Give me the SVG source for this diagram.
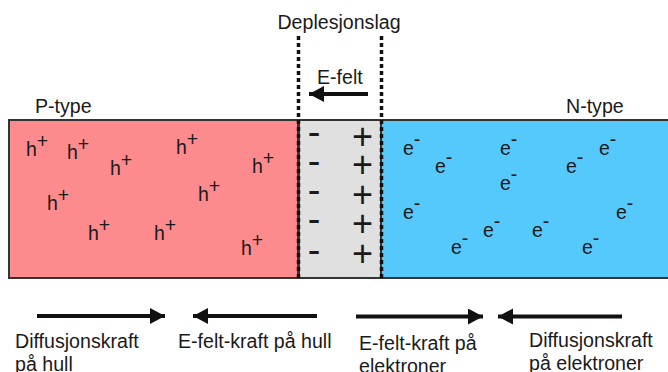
<svg xmlns="http://www.w3.org/2000/svg" width="668" height="372" viewBox="0 0 668 372">
<style>
  text { font-family: "Liberation Sans", Arial, sans-serif; fill: #1a1a1a; }
  .lbl { font-size: 19.6px; }
  .car { font-size: 19.5px; }
  .minus { font-size: 38px; text-anchor: middle; }
  .plus { font-size: 36px; text-anchor: middle; }
  .box { stroke: #333; stroke-width: 2; }
  .dash { stroke: #111; stroke-width: 3.5; stroke-dasharray: 4 3; fill: none; }
  .arr { stroke: #111; stroke-width: 3.8; fill: none; marker-end: url(#ah); }
</style>
<defs>
  <marker id="ah" markerUnits="userSpaceOnUse" markerWidth="16" markerHeight="18" refX="15" refY="8" orient="auto">
    <path d="M0,0 L15,8 L0,16 Z" fill="#111"/>
  </marker>
</defs>
<rect width="668" height="372" fill="#fff"/>

<g id="p-region">
  <rect class="box" x="9" y="120" width="289" height="158" fill="#fd8a8d"/>
  <text class="lbl" x="35" y="113">P-type</text>
  <g class="car">
    <text x="26" y="156">h<tspan dy="-8">+</tspan></text>
    <text x="67" y="159">h<tspan dy="-8">+</tspan></text>
    <text x="110" y="175">h<tspan dy="-8">+</tspan></text>
    <text x="176" y="154">h<tspan dy="-8">+</tspan></text>
    <text x="252" y="173">h<tspan dy="-8">+</tspan></text>
    <text x="47" y="210">h<tspan dy="-8">+</tspan></text>
    <text x="198" y="201">h<tspan dy="-8">+</tspan></text>
    <text x="88" y="240">h<tspan dy="-8">+</tspan></text>
    <text x="154" y="240">h<tspan dy="-8">+</tspan></text>
    <text x="241" y="255">h<tspan dy="-8">+</tspan></text>
  </g>
</g>

<g id="depletion-region">
  <rect class="box" x="299" y="120" width="82" height="158" fill="#e0e0e0"/>
  <text class="lbl" x="339" y="29" text-anchor="middle">Deplesjonslag</text>
  <text class="minus" x="314" y="145">-</text>
  <text class="minus" x="314" y="174">-</text>
  <text class="minus" x="314" y="203">-</text>
  <text class="minus" x="314" y="232">-</text>
  <text class="minus" x="314" y="263">-</text>
  <text class="plus" x="362.5" y="149">+</text>
  <text class="plus" x="362.5" y="177">+</text>
  <text class="plus" x="362.5" y="207">+</text>
  <text class="plus" x="362.5" y="236">+</text>
  <text class="plus" x="362.5" y="266">+</text>
</g>

<g id="n-region">
  <rect class="box" x="381" y="120" width="300" height="158" fill="#55c8fc"/>
  <text class="lbl" x="566" y="113">N-type</text>
  <g class="car">
    <text x="403" y="155">e<tspan dy="-9">-</tspan></text>
    <text x="435" y="173">e<tspan dy="-9">-</tspan></text>
    <text x="500" y="155">e<tspan dy="-9">-</tspan></text>
    <text x="500" y="190">e<tspan dy="-9">-</tspan></text>
    <text x="566" y="173">e<tspan dy="-9">-</tspan></text>
    <text x="599" y="155">e<tspan dy="-9">-</tspan></text>
    <text x="403" y="219">e<tspan dy="-9">-</tspan></text>
    <text x="483" y="237">e<tspan dy="-9">-</tspan></text>
    <text x="532" y="237">e<tspan dy="-9">-</tspan></text>
    <text x="451" y="254">e<tspan dy="-9">-</tspan></text>
    <text x="582" y="254">e<tspan dy="-9">-</tspan></text>
    <text x="616" y="219">e<tspan dy="-9">-</tspan></text>
  </g>
</g>

<g id="e-field">
  <text class="lbl" x="317" y="84">E-felt</text>
</g>

<g id="labels">
  <text class="lbl" x="15" y="348">Diffusjonskraft</text>
  <text class="lbl" x="15" y="371">på hull</text>
  <text class="lbl" x="178" y="348">E-felt-kraft på hull</text>
  <text class="lbl" x="359" y="350">E-felt-kraft på</text>
  <text class="lbl" x="359" y="373">elektroner</text>
  <text class="lbl" x="529" y="347">Diffusjonskraft</text>
  <text class="lbl" x="529" y="370">på elektroner</text>
</g>

<g id="connectors">
  <line class="dash" x1="298.5" y1="36" x2="298.5" y2="278"/>
  <line class="dash" x1="381.5" y1="36" x2="381.5" y2="278"/>
  <line class="arr" x1="368" y1="94" x2="309" y2="94"/>
  <line class="arr" x1="37" y1="316" x2="165" y2="316"/>
  <line class="arr" x1="317" y1="316" x2="193" y2="316"/>
  <line class="arr" x1="356" y1="316.5" x2="483" y2="316.5"/>
  <line class="arr" x1="622" y1="316.5" x2="498" y2="316.5"/>
</g>
</svg>
